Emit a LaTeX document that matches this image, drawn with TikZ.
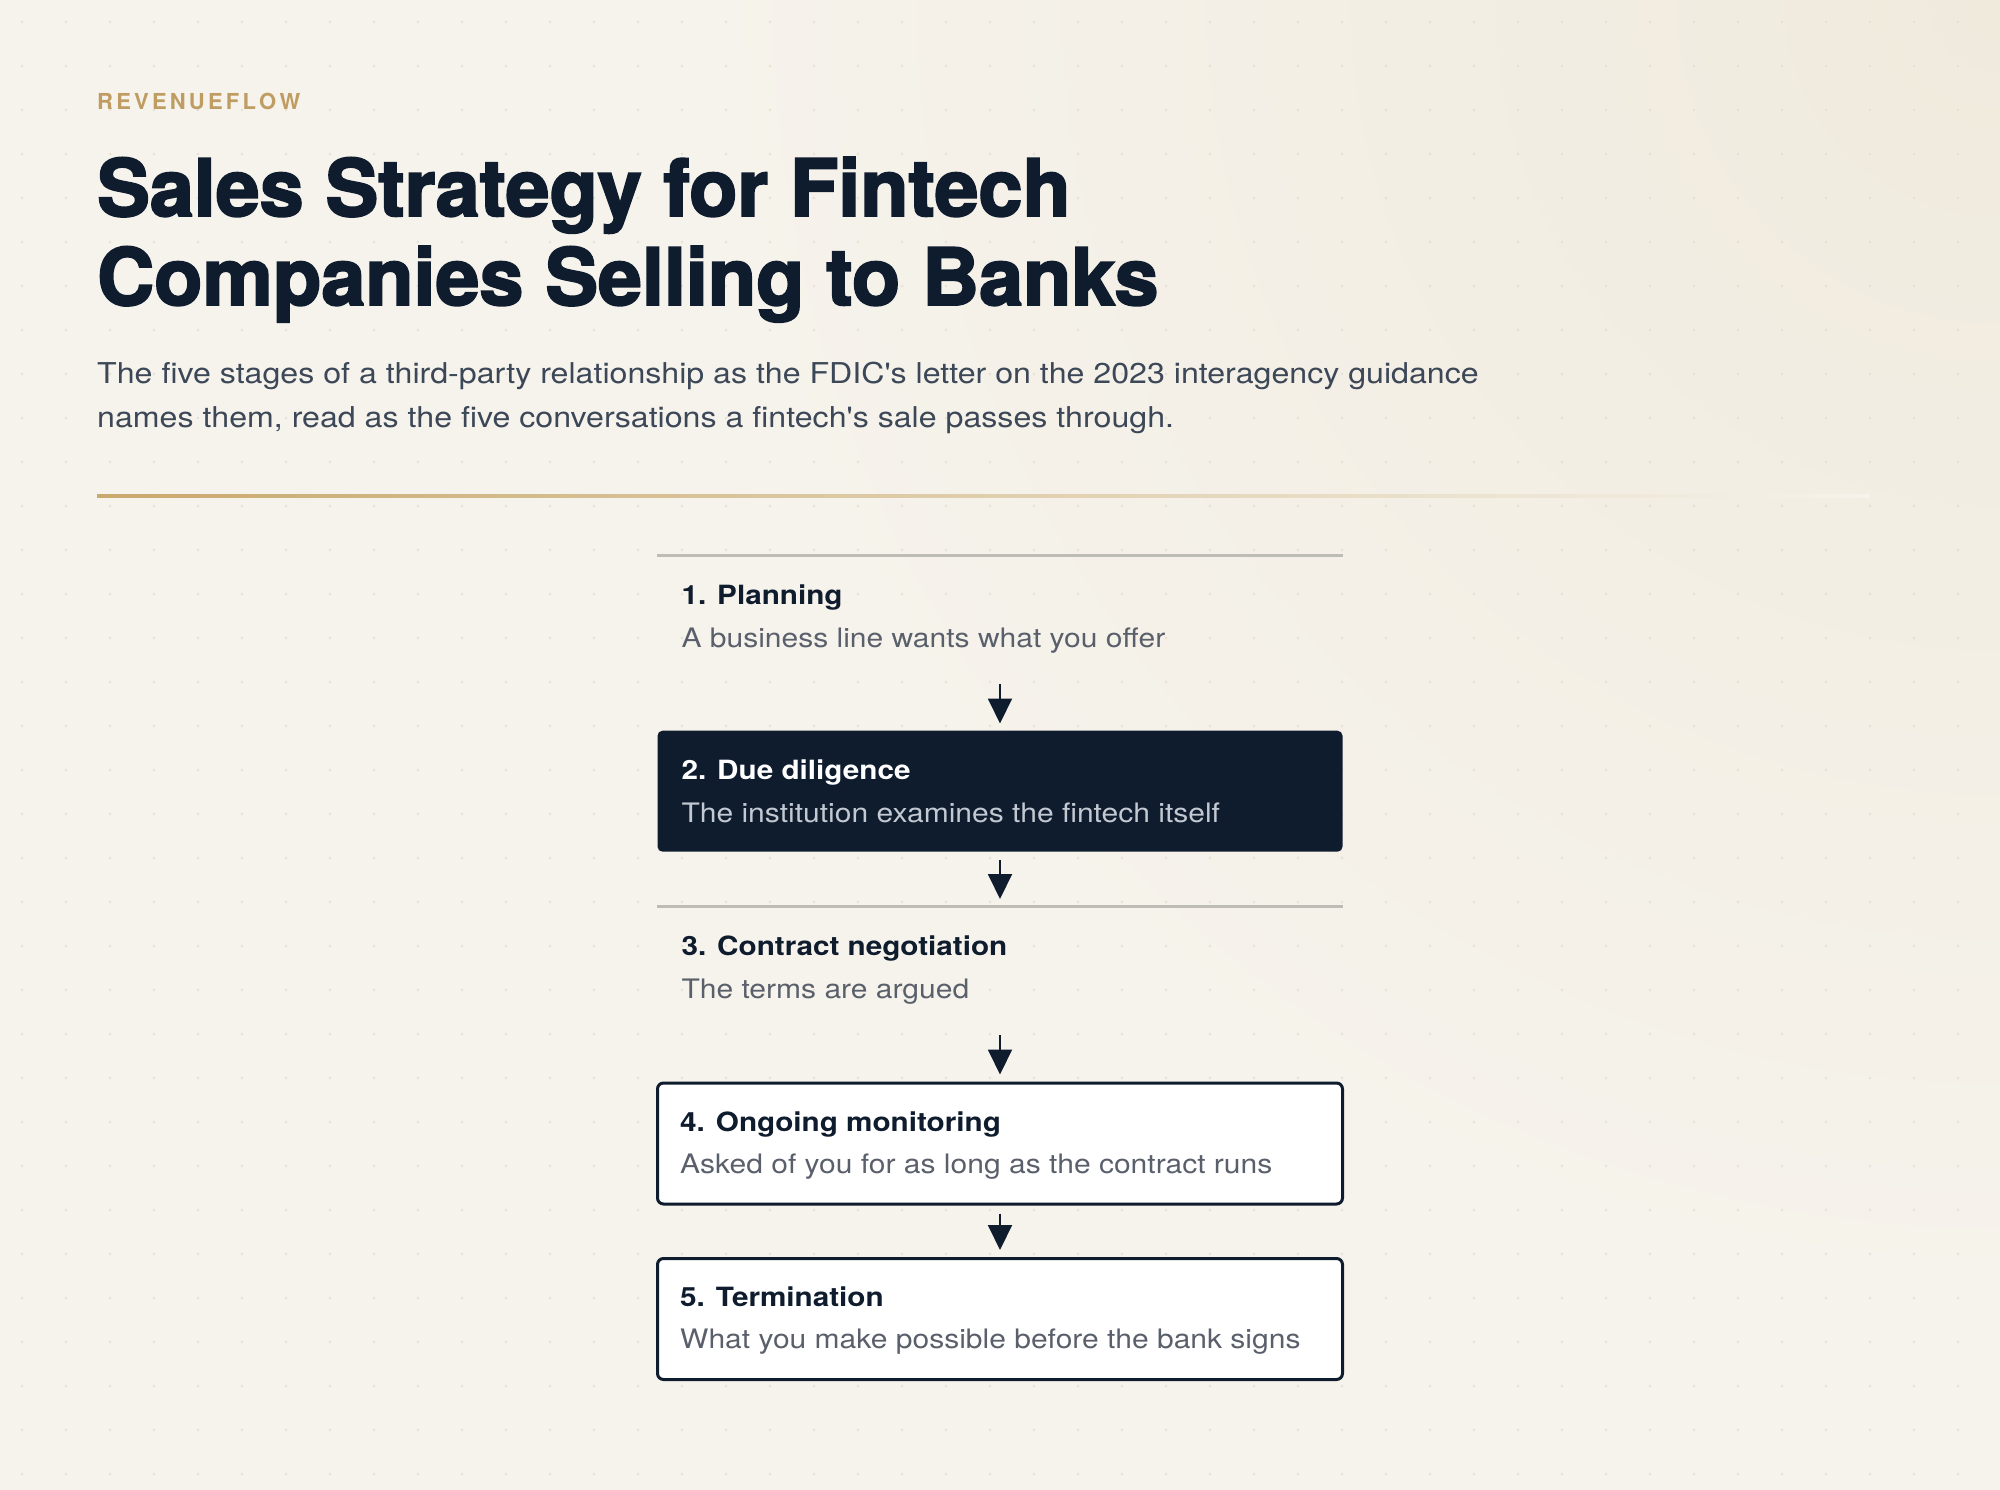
\documentclass[tikz,border=0pt]{standalone}
\usepackage{fontspec}
\setmainfont{TeX Gyre Heros}
\newfontfamily\wide[FakeStretch=1.12]{TeX Gyre Heros}
\newfontfamily\heavy[FakeBold=2.5]{TeX Gyre Heros}
\usetikzlibrary{arrows.meta,calc}
\definecolor{bgA}{HTML}{F6F3EC}
\definecolor{bgB}{HTML}{F0EADD}
\definecolor{dotc}{HTML}{E6E0D4}
\definecolor{navy}{HTML}{0F1C2E}
\definecolor{gold}{HTML}{BF9D62}
\definecolor{goldrule}{HTML}{C9A96C}
\definecolor{subc}{HTML}{3C4757}
\definecolor{mutec}{HTML}{5A606B}
\definecolor{lightc}{HTML}{C3C9D2}
\definecolor{rulec}{HTML}{BDBCB5}
\begin{document}
\begin{tikzpicture}[x=1pt,y=-1pt,
  stage/.style={minimum width=685pt,minimum height=121pt,inner sep=0pt,anchor=north},
  plainstage/.style={stage},
  darkstage/.style={stage,fill=navy,rounded corners=5pt},
  boxstage/.style={stage,fill=white,draw=navy,line width=3pt,rounded corners=6pt},
  txt/.style={anchor=base west,inner sep=0pt},
  stitle/.style={txt,font=\wide\bfseries\fontsize{26.5}{30}\selectfont,text=navy},
  ssub/.style={txt,font=\wide\fontsize{26.8}{30}\selectfont,text=mutec},
  flow/.style={draw=navy,line width=2pt,-{Triangle[width=24pt,length=25pt]},shorten <=8pt,shorten >=7pt},
  toprule/.style={draw=rulec,line width=3pt}
]
\useasboundingbox (0,0) rectangle (2000,1490);
% background
\fill[bgA] (0,0) rectangle (2000,1490);
\begin{scope}
  \clip (0,0) rectangle (2000,1490);
  \shade[inner color=bgB, outer color=bgA] (2000,0) circle (1300);
\end{scope}
\foreach \i in {0,...,45}{
  \foreach \j in {0,...,33}{
    \fill[dotc] (22+44*\i,22+44*\j) circle (1.3);
  }
}
% header
\node[txt,font=\bfseries\fontsize{22}{26}\selectfont,text=gold] (brand) at (97,110)
  {R\kern3.2pt E\kern3.2pt V\kern3.2pt E\kern3.2pt N\kern3.2pt U\kern3.2pt E\kern3.2pt F\kern3.2pt L\kern3.2pt O\kern3.2pt W};
\node[txt,font=\heavy\bfseries\fontsize{79}{89}\selectfont,text=navy] (title1) at (97,216) {Sales Strategy for Fintech};
\node[txt,font=\heavy\bfseries\fontsize{79}{89}\selectfont,text=navy] (title2) at (97,305) {Companies Selling to Banks};
\node[txt,font=\wide\fontsize{28.7}{44}\selectfont,text=subc] (sub1) at (97,383) {The five stages of a third-party relationship as the FDIC's letter on the 2023 interagency guidance};
\node[txt,font=\wide\fontsize{28.7}{44}\selectfont,text=subc] (sub2) at (97,427) {names them, read as the five conversations a fintech's sale passes through.};
\shade[left color=goldrule, right color=bgA] (97,494.5) rectangle (1870,497.5);
% stages
\node[plainstage] (s1) at (1000,555) {};
\node[darkstage] (s2) at (1000,730.5) {};
\node[plainstage] (s3) at (1000,906) {};
\node[boxstage] (s4) at (1000,1081.5) {};
\node[boxstage] (s5) at (1000,1257) {};
\draw[toprule] (s1.north west) -- (s1.north east);
\draw[toprule] (s3.north west) -- (s3.north east);
\node[stitle] (s1t) at ($(s1.north west)+(24,49)$) {1. Planning};
\node[ssub] (s1s) at ($(s1.north west)+(24,92)$) {A business line wants what you offer};
\node[stitle,text=white] (s2t) at ($(s2.north west)+(24,49)$) {2. Due diligence};
\node[ssub,text=lightc] (s2s) at ($(s2.north west)+(24,92)$) {The institution examines the fintech itself};
\node[stitle] (s3t) at ($(s3.north west)+(24,49)$) {3. Contract negotiation};
\node[ssub] (s3s) at ($(s3.north west)+(24,92)$) {The terms are argued};
\node[stitle] (s4t) at ($(s4.north west)+(24,50)$) {4. Ongoing monitoring};
\node[ssub] (s4s) at ($(s4.north west)+(24,92)$) {Asked of you for as long as the contract runs};
\node[stitle] (s5t) at ($(s5.north west)+(24,49)$) {5. Termination};
\node[ssub] (s5s) at ($(s5.north west)+(24,91)$) {What you make possible before the bank signs};
% connectors
\draw[flow] (s1) -- (s2);
\draw[flow] (s2) -- (s3);
\draw[flow] (s3) -- (s4);
\draw[flow] (s4) -- (s5);
\end{tikzpicture}
\end{document}
